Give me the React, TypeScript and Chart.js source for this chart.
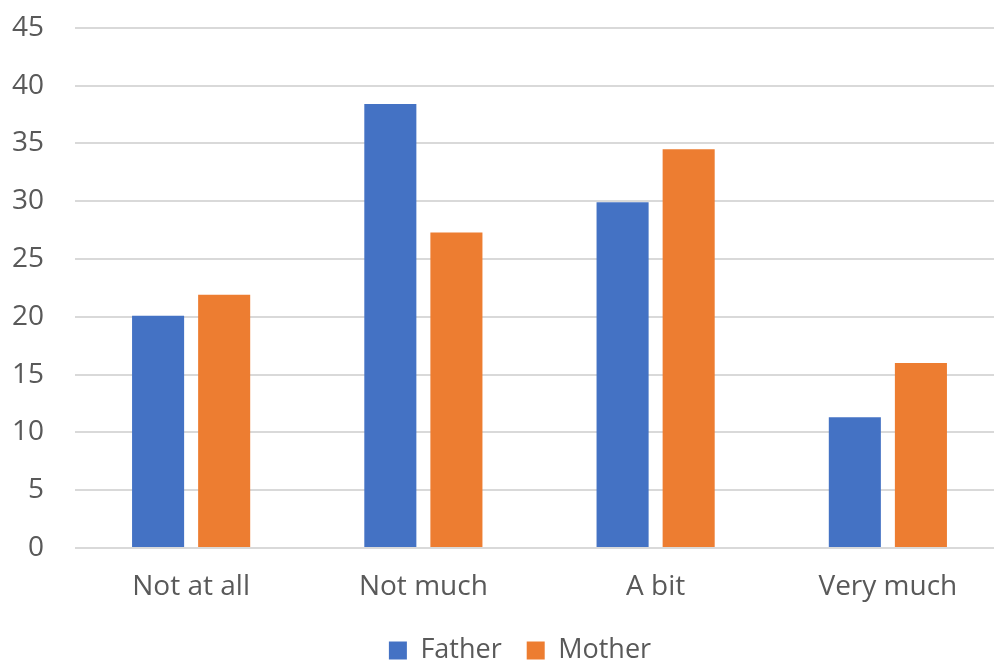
import React, { useEffect, useRef } from "react";
import { Chart, registerables } from "chart.js";

Chart.register(...registerables);

const categories = ["Not at all", "Not much", "A bit", "Very much"];
const fatherValues = [20.1, 38.4, 29.9, 11.3];
const motherValues = [21.9, 27.3, 34.5, 16.0];
const seriesNames = ["Father", "Mother"];
const yMin = 0;
const yMax = 45;
const yStep = 5;

const FONT = "'Open Sans', sans-serif";
const TEXT = "#595959";

const legendShift = {
  id: "legendShift",
  afterLayout(chart: any) {
    if (chart.legend) {
      chart.legend.left += 18;
      chart.legend.right += 18;
      chart.legend.top += 2;
      chart.legend.bottom += 2;
    }
  },
};

export default function App() {
  const ref = useRef<HTMLCanvasElement | null>(null);

  useEffect(() => {
    document.body.style.margin = "0";
    document.body.style.overflow = "hidden";
    const canvas = ref.current;
    if (!canvas) return;
    const chart = new Chart(canvas, {
      type: "bar",
      data: {
        labels: categories,
        datasets: [
          {
            label: seriesNames[0],
            data: fatherValues,
            backgroundColor: "#4472C4",
            categoryPercentage: 0.569,
            barPercentage: 0.788,
          },
          {
            label: seriesNames[1],
            data: motherValues,
            backgroundColor: "#ED7D31",
            categoryPercentage: 0.569,
            barPercentage: 0.788,
          },
        ],
      },
      plugins: [legendShift],
      options: {
        animation: false,
        responsive: false,
        maintainAspectRatio: false,
        layout: { padding: 0 },
        plugins: {
          tooltip: { enabled: false },
          legend: {
            position: "bottom",
            labels: {
              boxWidth: 18,
              boxHeight: 18,
              padding: 25,
              color: TEXT,
              font: { family: FONT, size: 27 },
            },
          },
        },
        scales: {
          x: {
            grid: { display: false, drawTicks: false },
            border: { display: false },
            ticks: {
              color: TEXT,
              font: { family: FONT, size: 28 },
              padding: 22,
            },
            afterFit: (scale: any) => {
              scale.height = 62;
            },
          },
          y: {
            min: yMin,
            max: yMax,
            grid: { color: "#D9D9D9", lineWidth: 2, drawTicks: false },
            border: { display: false },
            ticks: {
              stepSize: yStep,
              color: TEXT,
              font: { family: FONT, size: 28 },
              padding: 31,
            },
            afterFit: (scale: any) => {
              scale.width = 75;
            },
          },
        },
      },
    });
    return () => chart.destroy();
  }, []);

  return (
    <div style={{ position: "fixed", left: 0, top: -20, width: 1004, height: 692 }}>
      <canvas ref={ref} width={1004} height={692} style={{ display: "block" }} />
    </div>
  );
}
